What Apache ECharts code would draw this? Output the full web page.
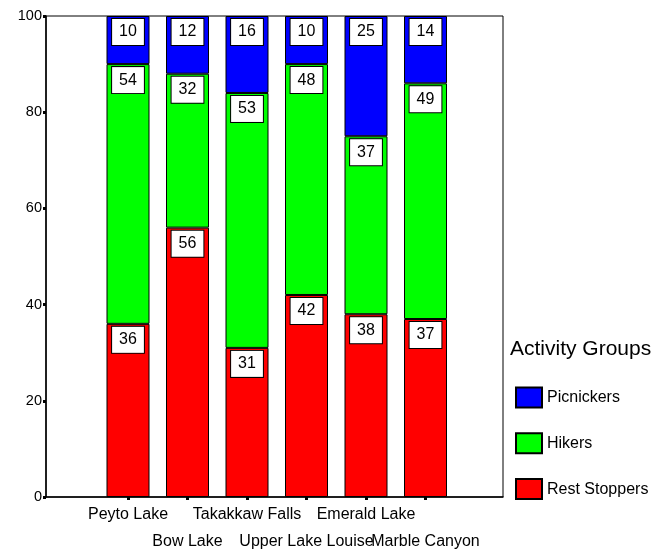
<!DOCTYPE html>
<html>
<head>
<meta charset="utf-8">
<script src="https://cdn.jsdelivr.net/npm/echarts@6/dist/echarts.min.js"></script>
<style>html,body{margin:0;padding:0;background:#fff;}#c{width:669px;height:550px;}</style>
</head>
<body>
<div id="c"></div>
<script>
const categories = ['Peyto Lake', 'Bow Lake', 'Takakkaw Falls', 'Upper Lake Louise', 'Emerald Lake', 'Marble Canyon'];
const restStoppers = [36, 56, 31, 42, 38, 37];
const hikers = [54, 32, 53, 48, 37, 49];
const picnickers = [10, 12, 16, 10, 25, 14];
const yTicks = [0, 20, 40, 60, 80, 100];

const font = 'Liberation Sans, Arial, sans-serif';
const chart = echarts.init(document.getElementById('c'));
const labelStyle = {
  show: true, position: 'insideTop', distance: 3,
  backgroundColor: '#fff', borderColor: '#000', borderWidth: 1,
  padding: [4, 7], fontSize: 16, lineHeight: 18, color: '#000', fontFamily: font
};
function mk(name, data, color) {
  return {
    name, type: 'bar', stack: 'a', data, xAxisIndex: 1, yAxisIndex: 1,
    barWidth: 43,
    itemStyle: { color, borderColor: '#000', borderWidth: 1 },
    label: labelStyle
  };
}
chart.setOption({
  animation: false,
  textStyle: { fontFamily: font },
  title: {
    text: 'Activity Groups', left: 510, top: 339, padding: 0,
    textStyle: { fontSize: 21, fontWeight: 'normal', color: '#000', fontFamily: font }
  },
  legend: {
    orient: 'vertical', left: 515, top: 386.5, padding: 0, itemWidth: 26, itemHeight: 20, itemGap: 23.8,
    icon: 'rect',
    data: ['Picnickers', 'Hikers', 'Rest Stoppers'],
    textStyle: { fontSize: 16, lineHeight: 20, color: '#000', fontFamily: font }
  },
  grid: [
    { left: 46, top: 16, width: 457, height: 481, show: true, borderColor: '#000', borderWidth: 1, backgroundColor: 'transparent', outerBoundsMode: 'none', containLabel: false },
    { left: 98.25, top: 16, width: 357, height: 481, outerBoundsMode: 'none', containLabel: false }
  ],
  xAxis: [
    { type: 'value', gridIndex: 0, min: 0, max: 1, axisLabel: { show: false }, axisTick: { show: false }, splitLine: { show: false },
      axisLine: { show: true, lineStyle: { color: '#000', width: 1.5 } } },
    { type: 'category', gridIndex: 1, data: categories,
      axisLine: { show: false },
      axisTick: { show: true, alignWithLabel: true, length: 3, lineStyle: { color: '#000', width: 3 } },
      axisLabel: { interval: 0, margin: 4, fontSize: 16, lineHeight: 27, color: '#000', fontFamily: font,
        formatter: (v, i) => (i % 2 ? '\n' + v : v) } }
  ],
  yAxis: [
    { type: 'value', gridIndex: 0, min: yTicks[0], max: yTicks[yTicks.length - 1], interval: 20,
      axisLine: { show: true, lineStyle: { color: '#000', width: 1.5 } },
      axisTick: { show: true, length: 3, lineStyle: { color: '#000', width: 3 } },
      axisLabel: { fontSize: 14.5, color: '#000', margin: 4, fontFamily: font },
      splitLine: { show: false } },
    { type: 'value', gridIndex: 1, min: 0, max: 100, show: false, splitLine: { show: false } }
  ],
  series: [
    mk('Rest Stoppers', restStoppers, '#ff0000'),
    mk('Hikers', hikers, '#00ff00'),
    mk('Picnickers', picnickers, '#0000ff')
  ]
});
</script>
</body>
</html>
